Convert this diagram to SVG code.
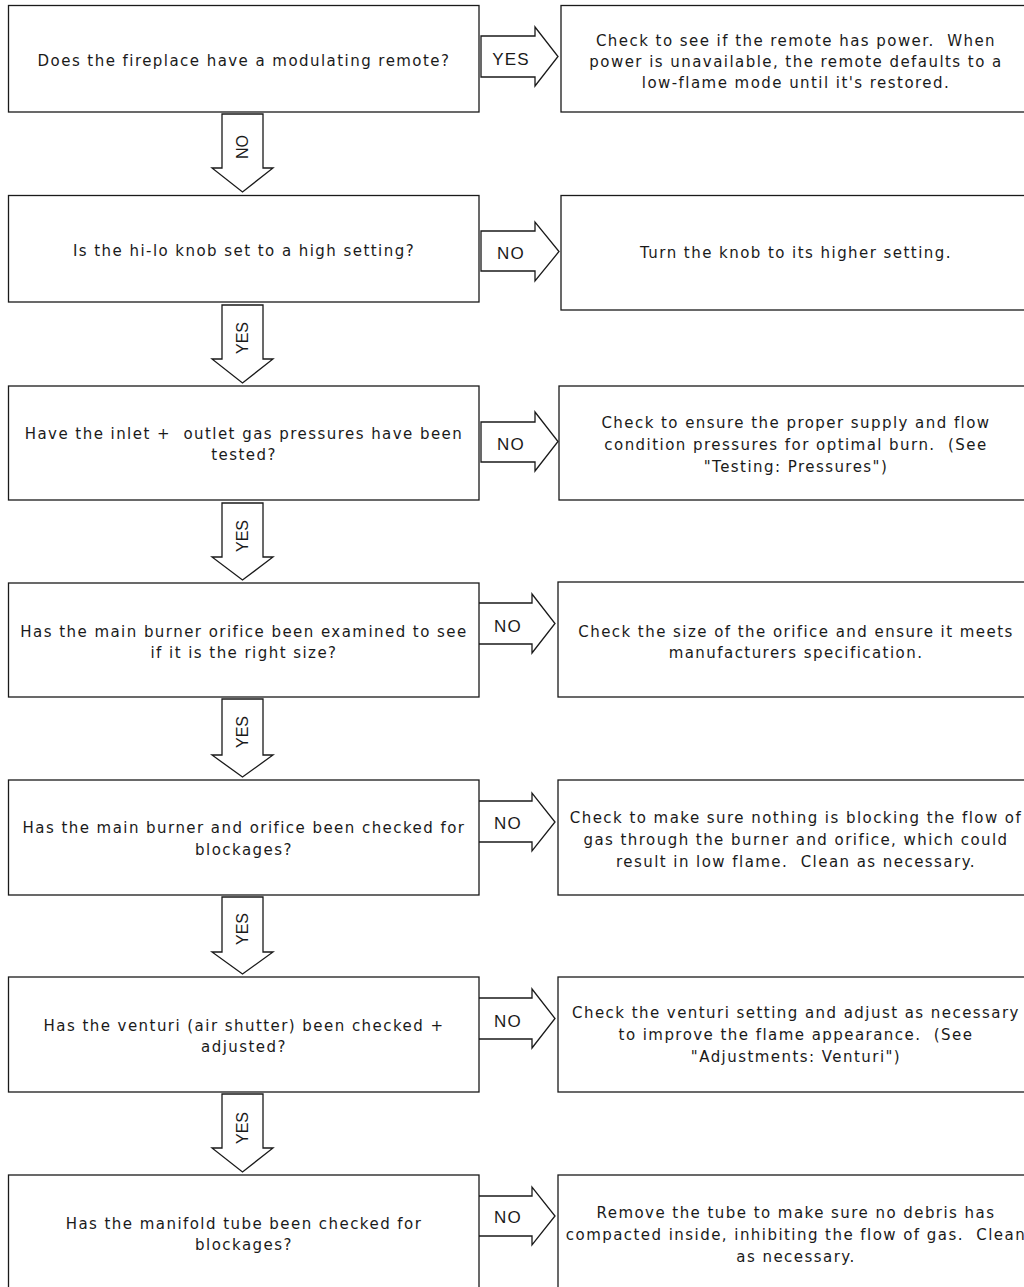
<svg xmlns="http://www.w3.org/2000/svg" width="1024" height="1287" viewBox="0 0 1024 1287">
<style>
.box{fill:#fff;stroke:#1a1a1a;stroke-width:1.3}
.arr{fill:#fff;stroke:#1a1a1a;stroke-width:1.3;stroke-linejoin:miter}
.t{font-family:"DejaVu Sans",sans-serif;font-size:15px;letter-spacing:1.45px;fill:#1a1a1a;text-anchor:middle;white-space:pre}
.l{font-family:"Liberation Sans",Arial,sans-serif;font-size:17px;letter-spacing:1.2px;fill:#1a1a1a;text-anchor:middle}
.v{font-family:"Liberation Sans",Arial,sans-serif;font-size:16px;fill:#1a1a1a;text-anchor:middle;dominant-baseline:central}
</style>
<rect width="1024" height="1287" fill="#fff"/>
<g id="connectors">
  <polygon class="arr" points="481,36 535,36 535,27 558,56.5 535,86 535,77 481,77"/>
  <text class="l" x="511" y="65">YES</text>
  <polygon class="arr" points="481,231 535,231 535,222 559,251.5 535,281 535,271 481,271"/>
  <text class="l" x="511" y="259">NO</text>
  <polygon class="arr" points="481,422 535,422 535,412 558,441.5 535,471 535,462 481,462"/>
  <text class="l" x="511" y="450">NO</text>
  <polygon class="arr" points="477,603 532,603 532,594 555,623.5 532,653 532,644 477,644"/>
  <text class="l" x="508" y="632">NO</text>
  <polygon class="arr" points="477,801 532,801 532,793 555,822 532,851 532,842 477,842"/>
  <text class="l" x="508" y="829">NO</text>
  <polygon class="arr" points="477,998 532,998 532,989 555,1018.5 532,1048 532,1039 477,1039"/>
  <text class="l" x="508" y="1027">NO</text>
  <polygon class="arr" points="477,1196 532,1196 532,1187 555,1216 532,1245 532,1236 477,1236"/>
  <text class="l" x="508" y="1223">NO</text>

  <polygon class="arr" points="222,114 263,114 263,168 273,168 242.5,192 212,168 222,168"/>
  <text class="v" transform="translate(242,147) rotate(-90)">NO</text>
  <polygon class="arr" points="222,305 263,305 263,359 273,359 242.5,383 212,359 222,359"/>
  <text class="v" transform="translate(242,338) rotate(-90)">YES</text>
  <polygon class="arr" points="222,503 263,503 263,557 273,557 242.5,580 212,557 222,557"/>
  <text class="v" transform="translate(242,536) rotate(-90)">YES</text>
  <polygon class="arr" points="222,699 263,699 263,755 273,755 242.5,777 212,755 222,755"/>
  <text class="v" transform="translate(242,732) rotate(-90)">YES</text>
  <polygon class="arr" points="222,897 263,897 263,952 273,952 242.5,974 212,952 222,952"/>
  <text class="v" transform="translate(242,929) rotate(-90)">YES</text>
  <polygon class="arr" points="222,1094 263,1094 263,1148 273,1148 242.5,1172 212,1148 222,1148"/>
  <text class="v" transform="translate(242,1128) rotate(-90)">YES</text>
</g>

<g id="q1">
  <rect class="box" x="8.5" y="5.5" width="470.5" height="106.5"/>
  <text class="t" x="244" y="66">Does the fireplace have a modulating remote?</text>
</g>
<g id="a1">
  <rect class="box" x="561" y="5.5" width="470" height="106.5"/>
  <text class="t" x="796" y="46">Check to see if the remote has power.  When</text>
  <text class="t" x="796" y="67">power is unavailable, the remote defaults to a</text>
  <text class="t" x="796" y="88">low-flame mode until it's restored.</text>
</g>

<g id="q2">
  <rect class="box" x="8.5" y="195.5" width="470.5" height="106.5"/>
  <text class="t" x="244" y="256">Is the hi-lo knob set to a high setting?</text>
</g>
<g id="a2">
  <rect class="box" x="561" y="195.5" width="470" height="114.5"/>
  <text class="t" x="796" y="258">Turn the knob to its higher setting.</text>
</g>

<g id="q3">
  <rect class="box" x="8.5" y="386" width="470.5" height="114"/>
  <text class="t" x="244" y="439">Have the inlet +  outlet gas pressures have been</text>
  <text class="t" x="244" y="460">tested?</text>
</g>
<g id="a3">
  <rect class="box" x="559" y="386" width="472" height="114"/>
  <text class="t" x="796" y="428">Check to ensure the proper supply and flow</text>
  <text class="t" x="796" y="450">condition pressures for optimal burn.  (See</text>
  <text class="t" x="796" y="472">"Testing: Pressures")</text>
</g>

<g id="q4">
  <rect class="box" x="8.5" y="583" width="470.5" height="114"/>
  <text class="t" x="244" y="637">Has the main burner orifice been examined to see</text>
  <text class="t" x="244" y="658">if it is the right size?</text>
</g>
<g id="a4">
  <rect class="box" x="558" y="582" width="473" height="115"/>
  <text class="t" x="796" y="637">Check the size of the orifice and ensure it meets</text>
  <text class="t" x="796" y="658">manufacturers specification.</text>
</g>

<g id="q5">
  <rect class="box" x="8.5" y="780" width="470.5" height="115"/>
  <text class="t" x="244" y="833">Has the main burner and orifice been checked for</text>
  <text class="t" x="244" y="855">blockages?</text>
</g>
<g id="a5">
  <rect class="box" x="558" y="780" width="473" height="115"/>
  <text class="t" x="796" y="823">Check to make sure nothing is blocking the flow of</text>
  <text class="t" x="796" y="845">gas through the burner and orifice, which could</text>
  <text class="t" x="796" y="867">result in low flame.  Clean as necessary.</text>
</g>

<g id="q6">
  <rect class="box" x="8.5" y="977" width="470.5" height="115"/>
  <text class="t" x="244" y="1031">Has the venturi (air shutter) been checked +</text>
  <text class="t" x="244" y="1052">adjusted?</text>
</g>
<g id="a6">
  <rect class="box" x="558" y="977" width="473" height="115"/>
  <text class="t" x="796" y="1018">Check the venturi setting and adjust as necessary</text>
  <text class="t" x="796" y="1040">to improve the flame appearance.  (See</text>
  <text class="t" x="796" y="1062">"Adjustments: Venturi")</text>
</g>

<g id="q7">
  <rect class="box" x="8.5" y="1175" width="470.5" height="120"/>
  <text class="t" x="244" y="1229">Has the manifold tube been checked for</text>
  <text class="t" x="244" y="1250">blockages?</text>
</g>
<g id="a7">
  <rect class="box" x="558" y="1175" width="473" height="120"/>
  <text class="t" x="796" y="1218">Remove the tube to make sure no debris has</text>
  <text class="t" x="796" y="1240">compacted inside, inhibiting the flow of gas.  Clean</text>
  <text class="t" x="796" y="1262">as necessary.</text>
</g>
</svg>
